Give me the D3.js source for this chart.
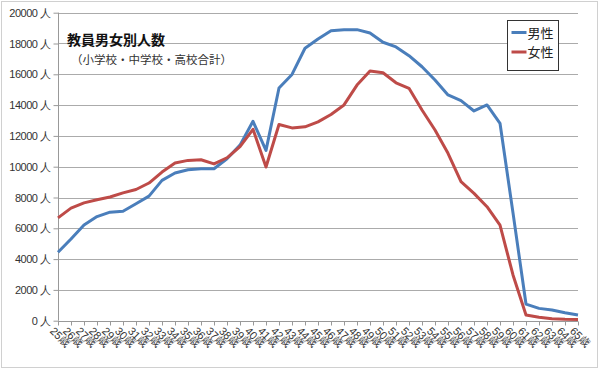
<!DOCTYPE html>
<html>
<head>
<meta charset="utf-8">
<script src="https://cdn.jsdelivr.net/npm/d3@7"></script>
<style>
  body { margin: 0; background: #fff; }
  svg { font-family: "Liberation Sans", "Noto Sans CJK JP", sans-serif; }
</style>
</head>
<body>
<div id="chart"></div>
<script>
var ages = d3.range(25, 66);
var ageLabels = ages.map(function(a){ return a + "歳" });

var male = [4440, 5310, 6220, 6760, 7050, 7110, 7590, 8090, 9110, 9590,
    9800, 9860, 9870, 10520, 11400, 12950, 11060, 15110, 15990, 17690,
    18290, 18830, 18900, 18900, 18680, 18080, 17780, 17210, 16490, 15630,
    14660, 14290, 13620, 14010, 12820, 7000, 1080, 800, 700, 520, 370];

var female = [6680, 7310, 7650, 7850, 8030, 8300, 8520, 8940, 9650, 10240,
    10410, 10450, 10180, 10580, 11300, 12430, 9980, 12740, 12520, 12590,
    12910, 13390, 14010, 15300, 16210, 16100, 15450, 15090, 13680, 12380,
    10870, 9030, 8270, 7400, 6210, 2970, 370, 220, 130, 90, 80];

var yTicks = d3.range(0, 20001, 2000);
var seriesNames = ["男性", "女性"];
var colors = ["#4a7ebb", "#be4b48"];

var width = 600, height = 370;

var svg = d3.select("#chart").append("svg")
    .attr("width", width)
    .attr("height", height);

// outer chart border
svg.append("rect")
    .attr("x", 1.5).attr("y", 1.5)
    .attr("width", width - 4).attr("height", height - 4)
    .attr("fill", "#fff")
    .attr("stroke", "#d0d0d0");

var x = d3.scalePoint()
    .domain(ages)
    .range([58, 578]);

var y = d3.scaleLinear()
    .domain([0, 20000])
    .range([320.7, 12.7]);

// gridlines
svg.append("g")
    .selectAll("line")
    .data(yTicks.slice(1))
    .enter()
    .append("line")
    .attr("x1", 58).attr("x2", 578)
    .attr("y1", function(d){ return Math.round(y(d)) + 0.5 })
    .attr("y2", function(d){ return Math.round(y(d)) + 0.5 })
    .attr("stroke", "#ababab");

// y axis
var yAxis = svg.append("g")
    .attr("transform", "translate(58.5,0)")
    .call(d3.axisLeft(y).tickValues(yTicks).tickSize(5).tickPadding(3)
        .tickFormat(function(d){ return d + " 人" }));
yAxis.selectAll("path, line").attr("stroke", "#999");
yAxis.select(".domain").attr("d", "M0," + y(20000) + "V" + y(0));
yAxis.selectAll("text")
    .attr("fill", "#333")
    .style("font-size", "11px")
    .style("letter-spacing", "-0.5px");

// x axis
var xAxis = svg.append("g")
    .attr("transform", "translate(0," + (Math.round(y(0)) + 0.5) + ")")
    .call(d3.axisBottom(x).tickSize(4).tickFormat(function(d, i){ return ageLabels[i] }));
xAxis.selectAll("path, line").attr("stroke", "#999");
xAxis.select(".domain").attr("d", "M58,0H578");
xAxis.selectAll("text")
    .attr("fill", "#333")
    .style("font-size", "11px")
    .attr("text-anchor", "start")
    .attr("dy", "0.3em")
    .attr("transform", "translate(-2,3) rotate(45)");

// lines
var line = d3.line()
    .x(function(d, i){ return x(ages[i]) })
    .y(function(d){ return y(d) });

[male, female].forEach(function(series, i){
    svg.append("path")
        .datum(series)
        .attr("fill", "none")
        .attr("stroke", colors[i])
        .attr("stroke-width", 3)
        .attr("stroke-linejoin", "round")
        .attr("d", line);
});

// title
svg.append("text")
    .attr("x", 67).attr("y", 45)
    .style("font-size", "14px")
    .style("font-weight", "bold")
    .style("font-family", "'Noto Sans CJK JP', sans-serif")
    .attr("fill", "#111")
    .text("教員男女別人数");

svg.append("text")
    .attr("x", 71).attr("y", 64)
    .style("font-size", "11.5px")
    .style("font-family", "'Noto Sans CJK JP', sans-serif")
    .attr("fill", "#333")
    .text("（小学校・中学校・高校合計）");

// legend
var legend = svg.append("g")
    .attr("transform", "translate(507.5,20.5)");
legend.append("rect")
    .attr("width", 51).attr("height", 50)
    .attr("fill", "#fff")
    .attr("stroke", "#333");
seriesNames.forEach(function(name, i){
    var ly = 12 + i * 19.5;
    legend.append("line")
        .attr("x1", 4).attr("x2", 19)
        .attr("y1", ly).attr("y2", ly)
        .attr("stroke", colors[i])
        .attr("stroke-width", 3);
    legend.append("text")
        .attr("x", 20).attr("y", ly + 5)
        .style("font-size", "13px")
        .style("font-family", "'Noto Sans CJK JP', sans-serif")
        .attr("fill", "#222")
        .text(name);
});
</script>
</body>
</html>
